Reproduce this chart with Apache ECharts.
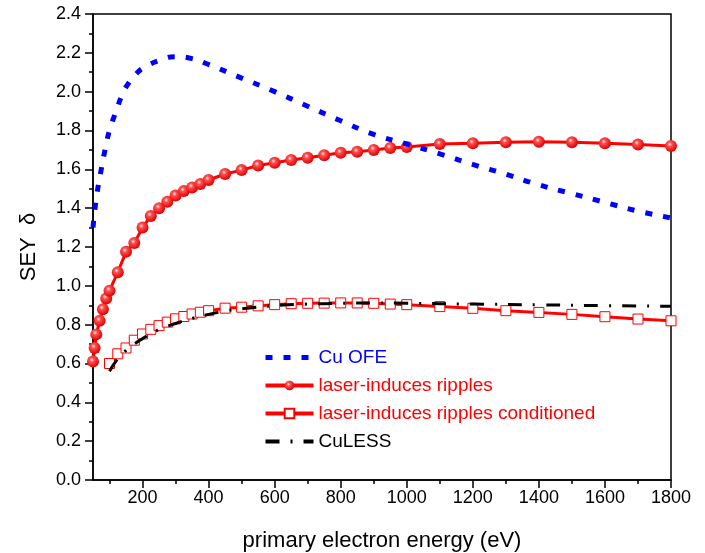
<!DOCTYPE html>
<html>
<head>
<meta charset="utf-8">
<script src="https://cdn.jsdelivr.net/npm/echarts@6/dist/echarts.min.js"></script>
<style>
  html, body { margin: 0; padding: 0; background: #fff; }
  #main { width: 705px; height: 553px; }
</style>
</head>
<body>
<div id="main"></div>
<script>
// Cu OFE (blue dotted)
const ofeEnergy = [50, 60, 75, 90, 100, 120, 140, 160, 180, 200, 250, 300, 350, 400, 500, 600, 700, 800, 900, 1000, 1100, 1200, 1300, 1400, 1500, 1600, 1700, 1800];
const ofeSey = [1.30, 1.45, 1.60, 1.73, 1.80, 1.90, 1.99, 2.05, 2.09, 2.12, 2.16, 2.18, 2.17, 2.14, 2.07, 2.00, 1.925, 1.85, 1.78, 1.73, 1.68, 1.625, 1.575, 1.52, 1.475, 1.43, 1.385, 1.35];

// laser-induces ripples (red balls)
const ripEnergy = [50, 55, 60, 70, 80, 90, 100, 125, 150, 175, 200, 225, 250, 275, 300, 325, 350, 375, 400, 450, 500, 550, 600, 650, 700, 750, 800, 850, 900, 950, 1000, 1100, 1200, 1300, 1400, 1500, 1600, 1700, 1800];
const ripSey = [0.61, 0.68, 0.75, 0.82, 0.88, 0.935, 0.975, 1.07, 1.175, 1.22, 1.30, 1.36, 1.40, 1.433, 1.465, 1.488, 1.507, 1.525, 1.545, 1.576, 1.596, 1.62, 1.634, 1.648, 1.66, 1.672, 1.685, 1.69, 1.70, 1.71, 1.715, 1.73, 1.734, 1.74, 1.742, 1.74, 1.734, 1.728, 1.72];

// laser-induces ripples conditioned (open squares)
const condEnergy = [100, 125, 150, 175, 200, 225, 250, 275, 300, 325, 350, 375, 400, 450, 500, 550, 600, 650, 700, 750, 800, 850, 900, 950, 1000, 1100, 1200, 1300, 1400, 1500, 1600, 1700, 1800];
const condSey = [0.60, 0.65, 0.68, 0.72, 0.752, 0.776, 0.795, 0.813, 0.83, 0.842, 0.855, 0.864, 0.872, 0.885, 0.89, 0.897, 0.903, 0.908, 0.91, 0.911, 0.912, 0.912, 0.91, 0.906, 0.903, 0.893, 0.884, 0.872, 0.863, 0.853, 0.841, 0.829, 0.82];

// CuLESS (black dash-dot)
const lessEnergy = [100, 125, 150, 175, 200, 250, 300, 350, 400, 450, 500, 600, 700, 800, 900, 1000, 1200, 1400, 1600, 1800];
const lessSey = [0.56, 0.625, 0.668, 0.70, 0.728, 0.775, 0.806, 0.832, 0.853, 0.87, 0.882, 0.898, 0.906, 0.91, 0.912, 0.91, 0.906, 0.902, 0.898, 0.895];

const xMajorTicks = [200, 400, 600, 800, 1000, 1200, 1400, 1600, 1800];
const xMinorTicks = [100, 300, 500, 700, 900, 1100, 1300, 1500, 1700];

const pairs = (xs, ys) => xs.map((x, i) => [x, ys[i]]);

const font = 'Liberation Sans, Arial, sans-serif';
const chart = echarts.init(document.getElementById('main'));

const ball = new echarts.graphic.RadialGradient(0.4, 0.36, 0.64, [
  { offset: 0, color: '#fff0f0' },
  { offset: 0.28, color: '#ff5050' },
  { offset: 1, color: '#e00000' }
]);

chart.setOption({
  animation: false,
  backgroundColor: '#fff',
  grid: {
    left: 93, right: 34, top: 14, bottom: 73,
    show: true, borderColor: '#000', borderWidth: 1.5,
    outerBoundsMode: 'none'
  },
  legend: {
    orient: 'vertical',
    left: 258,
    top: 343,
    itemWidth: 48,
    itemHeight: 12,
    itemGap: 9,
    textStyle: { fontFamily: font, fontSize: 19 },
    data: [
      { name: 'Cu OFE', itemStyle: { opacity: 0 }, lineStyle: { width: 5 }, textStyle: { color: '#0000ff' } },
      { name: 'laser-induces ripples', lineStyle: { width: 4 }, textStyle: { color: '#ff0000' } },
      { name: 'laser-induces ripples conditioned', lineStyle: { width: 4 }, textStyle: { color: '#ff0000' } },
      { name: 'CuLESS', itemStyle: { opacity: 0 }, lineStyle: { width: 4 }, textStyle: { color: '#000' } }
    ]
  },
  xAxis: [{
    type: 'value',
    min: 50, max: 1800,
    name: 'primary electron energy (eV)',
    nameLocation: 'middle',
    nameGap: 50,
    nameTextStyle: { fontFamily: font, fontSize: 22, color: '#000' },
    axisLine: { lineStyle: { color: '#000', width: 1.5 } },
    axisTick: { customValues: xMajorTicks, length: 8, lineStyle: { color: '#000', width: 1.5 } },
    axisLabel: { customValues: xMajorTicks, margin: 9, fontFamily: font, fontSize: 18, color: '#000', formatter: v => String(v) },
    splitLine: { show: false }
  }, {
    type: 'value',
    min: 50, max: 1800,
    position: 'bottom',
    axisLine: { show: false },
    axisTick: { customValues: xMinorTicks, length: 4, lineStyle: { color: '#000', width: 1.5 } },
    axisLabel: { show: false },
    splitLine: { show: false }
  }],
  yAxis: {
    type: 'value',
    min: 0, max: 2.4, interval: 0.2,
    name: 'SEY  δ',
    nameLocation: 'middle',
    nameGap: 53,
    nameRotate: 90,
    nameTextStyle: { fontFamily: font, fontSize: 22, color: '#000' },
    axisLine: { show: true, lineStyle: { color: '#000', width: 1.5 } },
    axisTick: { show: true, length: 8, lineStyle: { color: '#000', width: 1.5 } },
    minorTick: { show: true, splitNumber: 2, length: 4, lineStyle: { color: '#000', width: 1.5 } },
    axisLabel: { margin: 12, fontFamily: font, fontSize: 18, color: '#000', formatter: v => v.toFixed(1) },
    splitLine: { show: false }
  },
  series: [{
    name: 'Cu OFE',
    type: 'line',
    smooth: true,
    symbol: 'none',
    data: pairs(ofeEnergy, ofeSey),
    itemStyle: { color: '#0000ff' },
    lineStyle: { color: '#0000ff', width: 5, type: [7, 11] },
    z: 3
  }, {
    name: 'laser-induces ripples',
    type: 'line',
    data: pairs(ripEnergy, ripSey),
    symbol: 'circle',
    symbolSize: 12,
    itemStyle: { color: ball, borderWidth: 0 },
    lineStyle: { color: '#ff0000', width: 3 },
    z: 2
  }, {
    name: 'laser-induces ripples conditioned',
    type: 'line',
    data: pairs(condEnergy, condSey),
    symbol: 'rect',
    symbolSize: 10,
    itemStyle: { color: '#fff', borderColor: '#ff0000', borderWidth: 1 },
    lineStyle: { color: '#ff0000', width: 3 },
    z: 2
  }, {
    name: 'CuLESS',
    type: 'line',
    smooth: true,
    symbol: 'none',
    data: pairs(lessEnergy, lessSey),
    itemStyle: { color: '#000' },
    lineStyle: { color: '#000', width: 3, type: [14, 11, 2, 11] },
    z: 4
  }]
});
</script>
</body>
</html>
